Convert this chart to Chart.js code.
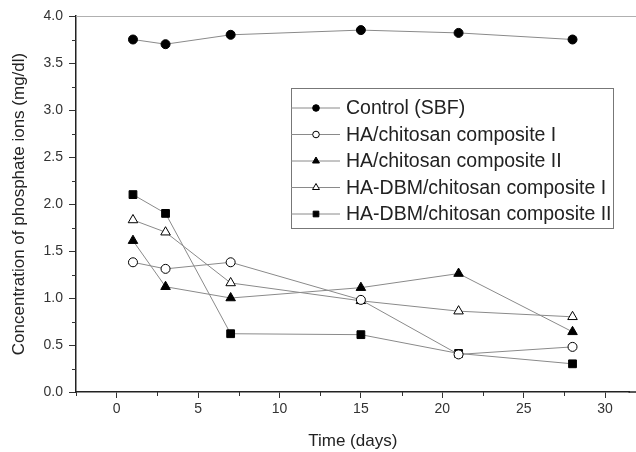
<!DOCTYPE html>
<html>
<head>
<meta charset="utf-8">
<script src="https://cdn.jsdelivr.net/npm/chart.js@4/dist/chart.umd.min.js"></script>
<style>
  html, body { margin: 0; padding: 0; background: #fff; overflow: hidden; }
  canvas { display: block; }
</style>
</head>
<body>
<canvas id="c" width="636" height="452"></canvas>
<script>
// time points (days)
const days = [1, 3, 7, 15, 21, 28];

const seriesNames = [
  'Control (SBF)',
  'HA/chitosan composite I',
  'HA/chitosan composite II',
  'HA-DBM/chitosan composite I',
  'HA-DBM/chitosan composite II'
];

// phosphate concentration (mg/dl)
const control   = [3.75, 3.70, 3.80, 3.85, 3.82, 3.75];
const haChitI   = [1.38, 1.31, 1.38, 0.98, 0.40, 0.48];
const haChitII  = [1.61, 1.12, 1.00, 1.11, 1.26, 0.64];
const dbmChitI  = [1.83, 1.70, 1.16, 0.97, 0.86, 0.80];
const dbmChitII = [2.10, 1.90, 0.62, 0.61, 0.41, 0.30];

const yTicks = [0, 0.5, 1, 1.5, 2, 2.5, 3, 3.5, 4];
const xTicks = [0, 5, 10, 15, 20, 25, 30];

const FONT = "'Liberation Sans', Arial, sans-serif";

function pts(vals) {
  return days.map((d, i) => ({ x: d, y: vals[i] }));
}

function ds(label, vals, style, filled) {
  return {
    label: label,
    data: pts(vals),
    borderColor: '#8a8a8a',
    borderWidth: 1,
    pointStyle: style,
    pointRadius: style === 'circle' ? 4.5 : 5.5,
    pointBackgroundColor: filled ? '#000' : '#fff',
    pointBorderColor: '#000',
    pointBorderWidth: 1,
    fill: false,
    tension: 0
  };
}

// minor ticks, top frame line, axis line running to the edge
const extrasPlugin = {
  id: 'extras',
  afterDraw(chart) {
    const ctx = chart.ctx;
    const a = chart.chartArea;
    const xs = chart.scales.x, ys = chart.scales.y;
    ctx.save();
    ctx.strokeStyle = '#b0b0b0';
    ctx.lineWidth = 1.2;
    ctx.beginPath();
    ctx.moveTo(a.left, a.top + 0.5);
    ctx.lineTo(chart.width, a.top + 0.5);
    ctx.stroke();

    ctx.strokeStyle = '#222';
    ctx.lineWidth = 1.5;
    ctx.beginPath();
    ctx.moveTo(a.right - 1, a.bottom);
    ctx.lineTo(chart.width, a.bottom);
    ctx.stroke();

    ctx.strokeStyle = '#333';
    ctx.lineWidth = 1;
    ctx.beginPath();
    for (let i = 0; i < yTicks.length - 1; i++) {
      const v = (yTicks[i] + yTicks[i + 1]) / 2;
      const y = Math.round(ys.getPixelForValue(v)) + 0.5;
      ctx.moveTo(a.left - 4, y);
      ctx.lineTo(a.left, y);
    }
    const minorX = [-2.5].concat(xTicks.map(t => t + 2.5));
    minorX.forEach(v => {
      if (v > xs.max) return;
      const x = Math.round(xs.getPixelForValue(v)) + 0.5;
      ctx.moveTo(x, a.bottom);
      ctx.lineTo(x, a.bottom + 4);
    });
    ctx.stroke();
    ctx.restore();
  }
};

// legend box with line samples
const legendPlugin = {
  id: 'boxLegend',
  afterDatasetsDraw(chart) {
    const ctx = chart.ctx;
    const bx = 291, by = 88, bw = 322, bh = 140;
    ctx.save();
    ctx.fillStyle = '#fff';
    ctx.fillRect(bx, by, bw, bh);
    ctx.strokeStyle = '#777';
    ctx.lineWidth = 1;
    ctx.strokeRect(bx + 0.5, by + 0.5, bw, bh);
    chart.data.datasets.forEach((d, i) => {
      const y = 108 + i * 26.5;
      ctx.strokeStyle = '#8a8a8a';
      ctx.lineWidth = 1;
      ctx.beginPath();
      ctx.moveTo(bx, y);
      ctx.lineTo(bx + 49, y);
      ctx.stroke();
      ctx.fillStyle = d.pointBackgroundColor;
      ctx.strokeStyle = '#000';
      const r = d.pointStyle === 'circle' ? 3.3 : 4;
      Chart.helpers.drawPoint(ctx, { pointStyle: d.pointStyle, radius: r, borderWidth: 1, rotation: 0 }, bx + 25, y);
      ctx.fillStyle = '#222';
      ctx.font = '19.5px ' + FONT;
      ctx.textBaseline = 'middle';
      ctx.textAlign = 'left';
      ctx.fillText(d.label, bx + 55, y + 1);
    });
    ctx.restore();
  }
};

new Chart(document.getElementById('c'), {
  type: 'line',
  data: {
    datasets: [
      ds(seriesNames[0], control, 'circle', true),
      ds(seriesNames[1], haChitI, 'circle', false),
      ds(seriesNames[2], haChitII, 'triangle', true),
      ds(seriesNames[3], dbmChitI, 'triangle', false),
      ds(seriesNames[4], dbmChitII, 'rect', true)
    ]
  },
  options: {
    responsive: false,
    animation: false,
    devicePixelRatio: 1,
    layout: { padding: { top: 16, right: 0, left: 0, bottom: 0 } },
    plugins: {
      legend: { display: false },
      tooltip: { enabled: false }
    },
    scales: {
      x: {
        type: 'linear',
        min: -2.5,
        max: 31.5,
        afterBuildTicks: s => { s.ticks = xTicks.map(v => ({ value: v })); },
        afterFit: s => { s.height = 60; },
        ticks: { color: '#333', font: { family: FONT, size: 14 }, padding: 3 },
        grid: { drawOnChartArea: false, drawTicks: true, tickLength: 6, tickColor: '#333' },
        border: { display: true, color: '#222', width: 1.5 },
        title: { display: true, text: 'Time (days)', color: '#222', font: { family: FONT, size: 17 }, padding: 0 }
      },
      y: {
        min: 0,
        max: 4,
        afterBuildTicks: s => { s.ticks = yTicks.map(v => ({ value: v })); },
        afterFit: s => { s.width = 76; },
        ticks: { color: '#333', font: { family: FONT, size: 14 }, padding: 6, callback: v => v.toFixed(1) },
        grid: { drawOnChartArea: false, drawTicks: true, tickLength: 7, tickColor: '#333' },
        border: { display: true, color: '#222', width: 1.5 },
        title: { display: true, text: 'Concentration of phosphate ions (mg/dl)', color: '#222', font: { family: FONT, size: 17 }, padding: { top: 9 } }
      }
    }
  },
  plugins: [extrasPlugin, legendPlugin]
});
</script>
</body>
</html>
